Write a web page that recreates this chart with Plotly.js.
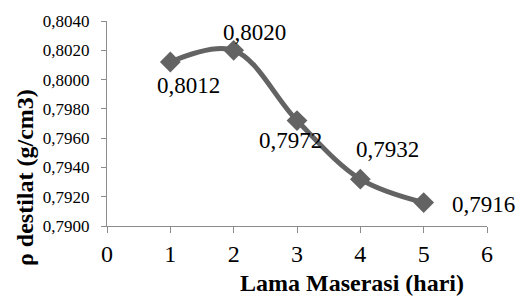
<!DOCTYPE html>
<html>
<head>
<meta charset="utf-8">
<script src="https://cdn.plot.ly/plotly-3.0.1.min.js"></script>
<style>html,body{margin:0;padding:0;background:#fff;}#chart{width:520px;height:298px;}</style>
</head>
<body>
<div id="chart"></div>
<script>
// Data
const days = [1, 2, 3, 4, 5];
const density = [0.8012, 0.8020, 0.7972, 0.7932, 0.7916];
const yTickVals = [0.7900, 0.7920, 0.7940, 0.7960, 0.7980, 0.8000, 0.8020, 0.8040];
const xTickVals = [0, 1, 2, 3, 4, 5, 6];
const xTitle = 'Lama Maserasi (hari)';
const yTitle = 'ρ destilat (g/cm3)';

// label offsets in pixels (styling)
const labelShiftX = [18, 21, -7, 27, 60];
const labelShiftY = [-23, 18, -20, 30, -2];

const fmt = v => v.toFixed(4).replace('.', ',');
const serif = '"Liberation Serif", "Times New Roman", serif';
const lineColor = '#636363';
const axisColor = '#8c8c8c';

const trace = {
  x: days, y: density, type: 'scatter', mode: 'lines+markers',
  line: {color: lineColor, width: 5, shape: 'spline', smoothing: 1},
  marker: {symbol: 'diamond', size: 16, color: lineColor},
  hoverinfo: 'none'
};

const annotations = days.map((d, i) => ({
  x: d, y: density[i], xref: 'x', yref: 'y', text: fmt(density[i]),
  showarrow: false, xshift: labelShiftX[i], yshift: labelShiftY[i],
  font: {family: serif, size: 23, color: '#000'}
}));
annotations.push({
  xref: 'paper', yref: 'paper', x: 0.645, y: 0, yshift: -57, yanchor: 'middle',
  text: '<b>' + xTitle + '</b>', showarrow: false,
  font: {family: serif, size: 24, color: '#000'}
});
annotations.push({
  xref: 'paper', yref: 'paper', x: 0, xshift: -82, y: 0.234, xanchor: 'center', yanchor: 'middle',
  textangle: -90, text: '<b>' + yTitle + '</b>', showarrow: false,
  font: {family: serif, size: 24, color: '#000'}
});

const layout = {
  width: 520, height: 298,
  margin: {l: 107, r: 33, t: 21, b: 72},
  paper_bgcolor: '#fff', plot_bgcolor: '#fff',
  separators: ',.',
  showlegend: false,
  xaxis: {
    range: [0, 6], tickvals: xTickVals, showgrid: false, zeroline: false,
    showline: true, linecolor: axisColor, linewidth: 1,
    ticks: 'outside', ticklen: 6, tickcolor: axisColor,
    tickfont: {family: serif, size: 24, color: '#000'}
  },
  yaxis: {
    range: [0.7900, 0.8040], tickvals: yTickVals, tickformat: '.4f',
    showgrid: false, zeroline: false,
    showline: true, linecolor: axisColor, linewidth: 1,
    ticks: 'outside', ticklen: 5, tickcolor: axisColor, ticklabelstandoff: 8,
    tickfont: {family: serif, size: 17, color: '#000'}
  },
  annotations: annotations
};

Plotly.newPlot('chart', [trace], layout, {displayModeBar: false, staticPlot: true});
</script>
</body>
</html>
